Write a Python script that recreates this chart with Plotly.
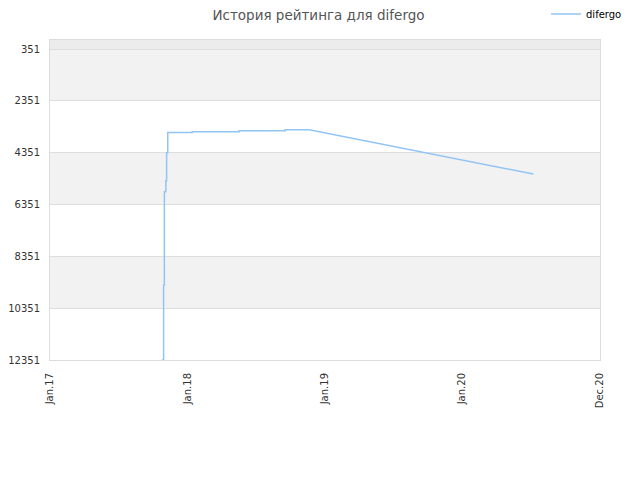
import plotly.graph_objects as go

dates = ["2017-10-25", "2017-10-30", "2017-10-30", "2017-11-01", "2017-11-01",
         "2017-11-05", "2017-11-05", "2017-11-07", "2017-11-07", "2017-11-10",
         "2017-11-10", "2018-01-14", "2018-01-14", "2018-05-19", "2018-05-19",
         "2018-09-18", "2018-09-18", "2018-11-21", "2020-07-09"]
ratings = [12351, 12351, 9457, 9457, 5857,
           5857, 5433, 5433, 4352, 4352,
           3573, 3573, 3542, 3542, 3503,
           3503, 3465, 3465, 5174]

y_ticks = [351, 2351, 4351, 6351, 8351, 10351, 12351]
x_tickvals = ["2017-01-01", "2018-01-01", "2019-01-01", "2020-01-01", "2021-01-02"]
x_ticktext = ["Jan.17", "Jan.18", "Jan.19", "Jan.20", "Dec.20"]
series_name = "difergo"
title = "История рейтинга для difergo"

W, H = 632, 472  # page body has an 8px margin

fig = go.Figure()
fig.add_trace(go.Scatter(x=dates, y=ratings, mode="lines", name=series_name,
                         line=dict(color="#92c5f4", width=1.5)))

shapes = []
shapes.append(dict(type="rect", xref="paper", yref="y", x0=0, x1=1, y0=0, y1=351,
                   fillcolor="#ececec", line=dict(width=0), layer="below"))
for lo, hi in [(351, 2351), (4351, 6351), (8351, 10351)]:
    shapes.append(dict(type="rect", xref="paper", yref="y", x0=0, x1=1, y0=lo, y1=hi,
                       fillcolor="#f2f2f2", line=dict(width=0), layer="below"))

fig.update_layout(
    width=W, height=H,
    margin=dict(l=42, r=40, t=32, b=120, autoexpand=False),
    paper_bgcolor="white", plot_bgcolor="white",
    title=dict(text=title, x=310.5 / W, xanchor="center", y=1 - 7.5 / H, yanchor="middle",
               font=dict(family="DejaVu Sans", size=13.5, color="#555555")),
    font=dict(family="DejaVu Sans", size=10, color="#333333"),
    showlegend=True,
    legend=dict(x=538 / W, y=1 - 6 / H, xref="container", yref="container",
                xanchor="left", yanchor="middle",
                font=dict(size=10, color="#000000"), bgcolor="rgba(0,0,0,0)",
                itemwidth=30),
    shapes=shapes,
)

fig.update_yaxes(range=[12351, 0], tickvals=y_ticks, ticktext=[str(v) for v in y_ticks],
                 showgrid=True, gridcolor="#dedede", gridwidth=1, automargin=False,
                 showline=True, linecolor="#dcdcdc", mirror=True, zeroline=False,
                 ticks="", ticklabelstandoff=7, tickfont=dict(size=10, color="#333333"))
fig.update_xaxes(type="date", range=["2017-01-01", "2021-01-02"],
                 tickvals=x_tickvals, ticktext=x_ticktext, tickangle=-90, automargin=False,
                 showgrid=False, showline=True, linecolor="#dcdcdc", mirror=True,
                 zeroline=False, ticks="", ticklabelstandoff=8,
                 tickfont=dict(size=10, color="#333333"))

fig.write_html("out.html")
